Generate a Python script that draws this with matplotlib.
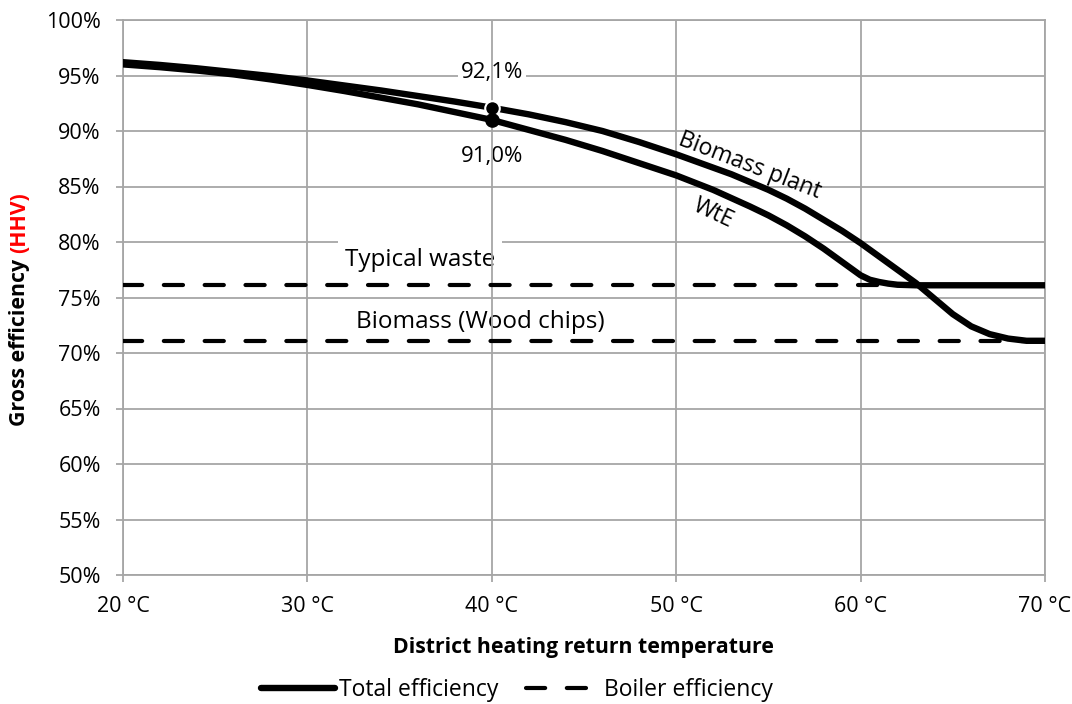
import matplotlib
matplotlib.use("Agg")
import matplotlib.pyplot as plt
from matplotlib.lines import Line2D

# district heating return temperature (deg C) and total efficiency (%)
temp_biomass = [20, 22, 24, 26, 28, 30, 32, 34, 36, 38, 40, 42, 44, 46, 48, 50, 51, 52, 53, 54, 55, 56,
                57, 58, 59, 60, 61, 62, 63, 64, 65, 66, 67, 68, 69, 70]
eff_biomass = [96.2, 95.95, 95.65, 95.3, 94.95, 94.55, 94.1, 93.65, 93.15, 92.65, 92.1, 91.5, 90.8, 90.0,
               89.0, 87.9, 87.3, 86.7, 86.1, 85.4, 84.7, 83.9, 83.0, 82.0, 81.0, 79.9, 78.7, 77.5, 76.3,
               74.9, 73.5, 72.4, 71.7, 71.3, 71.1, 71.1]

temp_wte = [20, 22, 24, 26, 28, 30, 32, 34, 36, 38, 40, 42, 44, 46, 48, 50, 52, 54, 55, 56, 57, 58, 59,
            59.5, 60, 60.5, 61, 61.5, 62, 63, 65, 70]
eff_wte = [96.0, 95.75, 95.45, 95.1, 94.65, 94.15, 93.6, 93.0, 92.4, 91.7, 91.0, 90.1, 89.2, 88.2, 87.1,
           86.0, 84.7, 83.2, 82.4, 81.5, 80.5, 79.4, 78.2, 77.6, 77.0, 76.6, 76.4, 76.25, 76.15, 76.1,
           76.1, 76.1]

# boiler efficiency (%)
boiler_waste = 76.1
boiler_biomass = 71.1

marker_temp = 40
marker_vals = [92.1, 91.0]
marker_labels = ["92,1%", "91,0%"]

x_ticks = [20, 30, 40, 50, 60, 70]
y_ticks = list(range(50, 101, 5))

plt.rcParams['font.family'] = ['Open Sans', 'DejaVu Sans']
grid_c = '#a6a6a6'

fig = plt.figure(figsize=(10.72, 7.04), dpi=100)
ax = fig.add_axes([123 / 1072, 1 - 575 / 704, (1045 - 123) / 1072, (575 - 20) / 704])

ax.plot(temp_biomass, eff_biomass, color='black', lw=4.6, solid_capstyle='round',
        solid_joinstyle='round', zorder=4)
ax.plot(temp_wte, eff_wte, color='black', lw=4.6, solid_capstyle='round',
        solid_joinstyle='round', zorder=4)
for v in (boiler_waste, boiler_biomass):
    ax.plot([x_ticks[0], x_ticks[-1]], [v, v], color='black', lw=3.0,
            linestyle=(0, (4.6, 5.2)), dash_capstyle='round', zorder=3)

ax.plot([marker_temp], [marker_vals[0]], 'o', color='black', ms=10.5, mec='white', mew=1.5, zorder=5)
ax.plot([marker_temp], [marker_vals[1]], 'o', color='black', ms=9.5, zorder=5)

box = dict(facecolor='white', edgecolor='none', pad=2)
ax.text(marker_temp, 95.3, marker_labels[0], ha='center', va='center', fontsize=16, bbox=box, zorder=1.5)
ax.text(marker_temp, 87.7, marker_labels[1], ha='center', va='center', fontsize=16, bbox=box, zorder=1.5)
ax.text(36.1, 78.4, "Typical waste", ha='center', va='center', fontsize=17.5,
        bbox=dict(facecolor='white', edgecolor='none', pad=5), zorder=1.5)
ax.text(39.4, 72.8, "Biomass (Wood chips)", ha='center', va='center', fontsize=17.5,
        bbox=dict(facecolor='white', edgecolor='none', pad=3), zorder=1.5)
ax.text(54.0, 86.9, "Biomass plant", ha='center', va='center', fontsize=16.5, rotation=-21, zorder=6)
ax.text(52.0, 82.6, "WtE", ha='center', va='center', fontsize=16.5, rotation=-25, zorder=6)

ax.set_xlim(20, 70)
ax.set_ylim(50, 100)
ax.set_xticks(x_ticks)
ax.set_xticklabels([f"{t} °C" for t in x_ticks])
ax.set_yticks(y_ticks)
ax.set_yticklabels([f"{v}%" for v in y_ticks])
ax.tick_params(axis='both', labelsize=15.5, colors=grid_c, labelcolor='black', length=5, width=1.3)
ax.tick_params(axis='x', pad=10)
ax.tick_params(axis='y', pad=11)
ax.grid(True, color=grid_c, lw=1.3)
ax.set_axisbelow(True)
ax.xaxis.set_zorder(2.5)
ax.yaxis.set_zorder(0.5)
for s in ax.spines.values():
    s.set_color(grid_c)
    s.set_linewidth(1.3)
    s.set_zorder(0.6)

fig.text(583 / 1072, 1 - 647 / 704, "District heating return temperature", ha='center', va='center',
         fontsize=15.3, fontweight='bold')

# y label: black part plus red (HHV)
yl_x = 20 / 1072
t1 = fig.text(yl_x, 1 - 426 / 704, "Gross efficiency ", rotation=90, ha='center', va='bottom',
              fontsize=15.3, fontweight='bold')
fig.canvas.draw()
bb = t1.get_window_extent().transformed(fig.transFigure.inverted())
fig.text(yl_x, bb.y1, "(HHV)", rotation=90, ha='center', va='bottom', fontsize=15.3,
         fontweight='bold', color='#ff0000')

handles = [Line2D([], [], color='black', lw=4.6, solid_capstyle='round'),
           Line2D([], [], color='black', lw=3.0, linestyle=(0, (4.6, 5.2)), dash_capstyle='round')]
fig.legend(handles, ["Total efficiency", "Boiler efficiency"], loc='center', ncol=2,
           bbox_to_anchor=(517 / 1072, 1 - 690 / 704), frameon=False, fontsize=16.5,
           handlelength=3.2, handletextpad=0.2, columnspacing=1.2)

fig.savefig("out.png", dpi=100)
